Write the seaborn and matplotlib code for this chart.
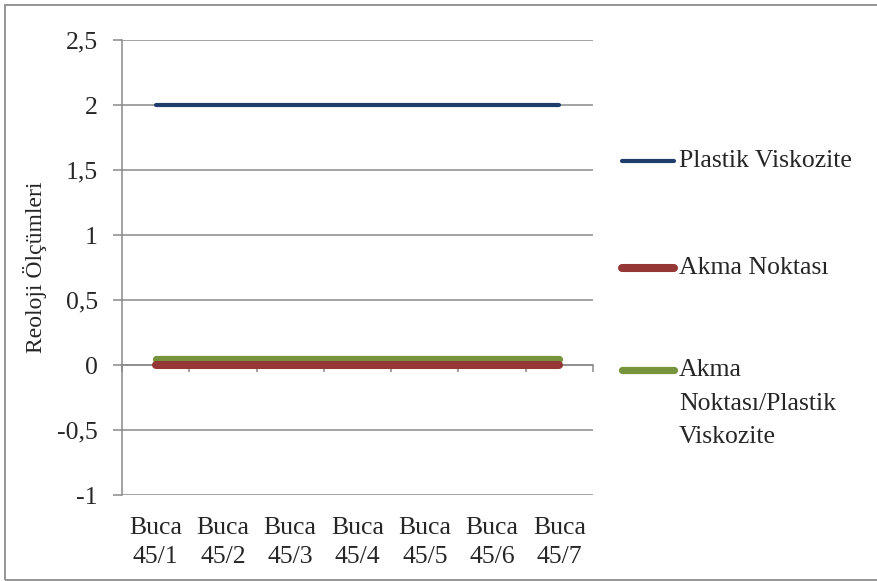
import matplotlib
matplotlib.use("Agg")
import matplotlib.pyplot as plt
import seaborn as sns
import pandas as pd
from matplotlib.lines import Line2D
from matplotlib.patches import Rectangle

# Sample names (x categories)
samples = ["Buca\n45/1", "Buca\n45/2", "Buca\n45/3", "Buca\n45/4",
           "Buca\n45/5", "Buca\n45/6", "Buca\n45/7"]

# Rheology measurements per sample
plastik_viskozite = [2, 2, 2, 2, 2, 2, 2]
akma_noktasi = [0, 0, 0, 0, 0, 0, 0]
akma_plastik_orani = [0.045, 0.045, 0.045, 0.045, 0.045, 0.045, 0.045]

series_names = ["Plastik Viskozite", "Akma Noktası", "Akma\nNoktası/Plastik\nViskozite"]
series_colors = ["#1F3E6C", "#953735", "#77933C"]
series_widths = [3.0, 5.8, 5.2]

y_ticks = [-1, -0.5, 0, 0.5, 1, 1.5, 2, 2.5]
y_tick_labels = ["-1", "-0,5", "0", "0,5", "1", "1,5", "2", "2,5"]
y_title = "Reoloji Ölçümleri"

sns.set_theme(style="white")
plt.rcParams["font.family"] = ["Liberation Serif", "DejaVu Serif"]

W, H = 877, 581
fig = plt.figure(figsize=(W / 100, H / 100), dpi=100)
ax = fig.add_axes([122 / W, 1 - 495 / H, 471 / W, 455 / H])

positions = list(range(len(samples)))
df = pd.DataFrame({
    "pos": positions * 3,
    "value": plastik_viskozite + akma_noktasi + akma_plastik_orani,
    "series": [series_names[0]] * 7 + [series_names[1]] * 7 + [series_names[2]] * 7,
})

grid_col = "#8a8a8a"
for yv in y_ticks:
    ax.axhline(yv, color=grid_col, lw=1.1, zorder=1)

draw_order = [0, 2, 1]
for z, i in enumerate(draw_order):
    sub = df[df["series"] == series_names[i]]
    sns.lineplot(data=sub, x="pos", y="value", color=series_colors[i],
                 linewidth=series_widths[i], solid_capstyle="round",
                 ax=ax, zorder=3 + z, legend=False)

ax.set_xlim(-0.5, len(samples) - 0.5)
ax.set_ylim(-1, 2.5)

# y axis
ax.set_yticks(y_ticks)
ax.set_yticklabels(y_tick_labels, fontsize=18.5)
ax.tick_params(axis="y", direction="out", length=6.5, width=1.1, color=grid_col,
               pad=11, left=True)

# horizontal axis crossing at zero, with boundary ticks
for s in ["top", "right"]:
    ax.spines[s].set_visible(False)
ax.spines["left"].set_color(grid_col)
ax.spines["left"].set_linewidth(1.1)
ax.spines["bottom"].set_position(("data", 0))
ax.spines["bottom"].set_color(grid_col)
ax.spines["bottom"].set_linewidth(1.1)
ax.set_xticks([p - 0.5 for p in positions] + [len(samples) - 0.5])
ax.set_xticklabels([])
ax.tick_params(axis="x", direction="out", length=5, width=1.1, color=grid_col, bottom=True)
ax.set_xlabel("")
ax.set_ylabel(y_title, fontsize=17)
ax.yaxis.set_label_coords(-0.16, 0.5)

# category labels at the bottom of the plot area
sec = ax.secondary_xaxis(0.0)
sec.set_xticks(positions)
sec.set_xticklabels(samples, fontsize=18.5, linespacing=1.4)
sec.tick_params(length=0, pad=16)
sec.spines["bottom"].set_visible(False)

# legend on the right
legend_y = [161, 268, 370]
for name, col, lw, yy in zip(series_names, series_colors, series_widths, legend_y):
    fy = 1 - yy / H
    fig.add_artist(Line2D([622 / W, 674 / W], [fy, fy], color=col, lw=lw,
                          solid_capstyle="round", transform=fig.transFigure))
    fig.text(679 / W, fy, name.split("\n")[0], fontsize=18.5, va="center", ha="left")
    extra = name.split("\n")[1:]
    for k, line in enumerate(extra):
        fig.text(679 / W, fy - (k + 1) * 33.5 / H, line, fontsize=18.5,
                 va="center", ha="left")

# chart border
fig.add_artist(Rectangle((4.5 / W, 1 / H), 1.2, 1 - 6 / H, fill=False,
                         edgecolor="#8c8c8c", lw=1.3, transform=fig.transFigure))

fig.savefig("out.png", dpi=100)
